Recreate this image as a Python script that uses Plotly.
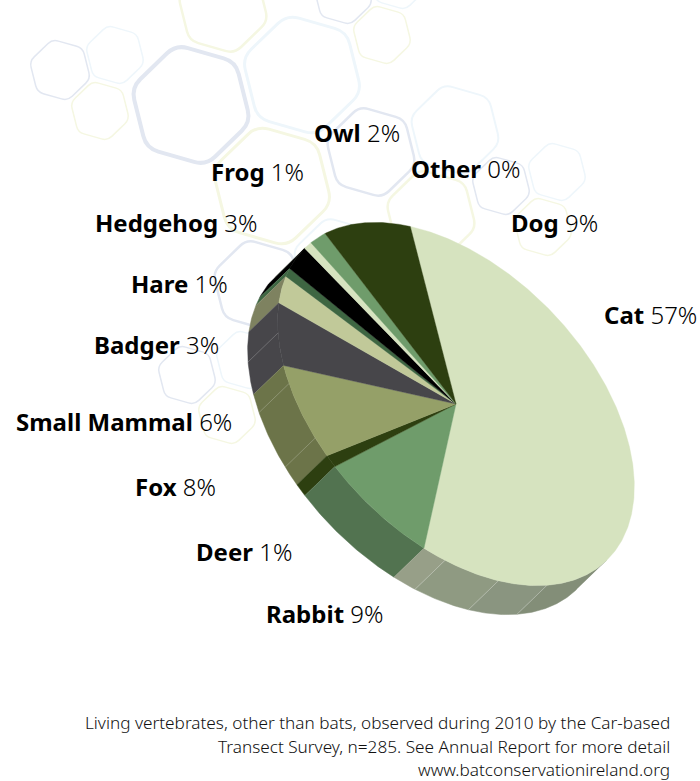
import numpy as np
import plotly.graph_objects as go

# Share of sightings per animal, clockwise from the top of the pie
animals = ["Cat", "Rabbit", "Deer", "Fox", "Small Mammal", "Badger", "Hare",
           "Hedgehog", "Frog", "Owl", "Other", "Dog"]
percent = [57, 9, 1, 8, 6, 3, 1, 3, 1, 2, 0, 9]

top_colors = ["#D6E3BF", "#6F9C6B", "#2D3F10", "#95A068", "#47464A", "#C1C999",
              "#3E6642", "#000000", "#D6E3BF", "#6F9C6B", "#2D3F10", "#2D3F10"]
wall_colors = ["#979F88", "#527350", "#2D3F10", "#6C7449", "#47464A", "#7E8260",
               "#3E6642", "#000000", "#8F9A82", "#527350", "#2D3F10", "#2D3F10"]

# Lighter seams on the rim of the pie, as cumulative percent, and the shades between them
seam_positions = [45.6, 50.3, 55.1, 68.6, 73.4, 78.0]
cat_wall_shades = [(0, 45.6, "#838E78"), (45.6, 50.3, "#8A9580"),
                   (50.3, 55.1, "#8F9A82"), (55.1, 57, "#979F88")]

# Label centres
label_x = [650, 325, 244, 175, 124, 156, 179, 176, 257, 357, 466, 554]
label_y = [314.5, 613.5, 551.5, 486.5, 421.5, 344.5, 283.5, 222.5, 171.5, 132.5, 168.5, 222.5]

footer_lines = ["Living vertebrates, other than bats, observed during 2010 by the Car-based",
                "Transect Survey, n=285. See Annual Report for more detail",
                "www.batconservationireland.org"]
footer_y = [722, 746, 769]

# Background hexagons: centre x, centre y, half width, stroke colour, stroke width
BLUE, PALE, YELLOW = "#E2E7F1", "#EEF6FB", "#F5F7E2"
hexagons = [
    (60, 70, 29, BLUE, 1.5), (115, 55, 28, PALE, 1.5), (100, 111, 28, YELLOW, 1.5),
    (191, 105, 57, BLUE, 4), (223, 8, 43, YELLOW, 2.5), (302, 75, 57, PALE, 3),
    (272, 186, 57, YELLOW, 3), (371, 152, 43, BLUE, 2.5), (455, 130, 43, PALE, 2),
    (431, 215, 43, YELLOW, 2.5), (501, 186, 28, BLUE, 1.5), (557, 172, 28, PALE, 1.5),
    (543, 227, 28, YELLOW, 1.5), (343, -5, 28, BLUE, 1.5), (398, -20, 28, PALE, 1.5),
    (382, 35, 28, YELLOW, 1.5), (258, 285, 43, BLUE, 2.5), (338, 263, 43, PALE, 2),
    (245, 360, 28, PALE, 1.5), (187, 375, 28, BLUE, 1.5), (227, 415, 28, YELLOW, 1.5),
]

# Oblique projection of the pie's disc onto the page
CENTER = (456.0, 404.0)
AXIS_COS = (-45.7, -177.5)
AXIS_SIN = (172.4, 38.5)
DEPTH = (-30.0, 29.0)
# The side wall only shows between these two rim positions
WALL_FROM, WALL_TO = 38.1, 88.1


def rim(cum):
    t = 2 * np.pi * np.asarray(cum, dtype=float) / 100
    x = CENTER[0] + AXIS_COS[0] * np.cos(t) + AXIS_SIN[0] * np.sin(t)
    y = CENTER[1] + AXIS_COS[1] * np.cos(t) + AXIS_SIN[1] * np.sin(t)
    return x, y


def sweep(a, b):
    return np.linspace(a, b, max(3, int((b - a) * 6) + 2))


def wall_trace(a, b, color):
    a, b = max(a, WALL_FROM), min(b, WALL_TO)
    if b <= a:
        return None
    x, y = rim(sweep(a, b))
    xs = np.concatenate([x, x[::-1] + DEPTH[0]])
    ys = np.concatenate([y, y[::-1] + DEPTH[1]])
    return go.Scatter(x=xs, y=ys, fill="toself", fillcolor=color, mode="lines",
                      line=dict(color=color, width=0.5), hoverinfo="skip", showlegend=False)


def face_trace(a, b, color):
    x, y = rim(sweep(a, b))
    xs = np.concatenate([[CENTER[0]], x, [CENTER[0]]])
    ys = np.concatenate([[CENTER[1]], y, [CENTER[1]]])
    return go.Scatter(x=xs, y=ys, fill="toself", fillcolor=color, mode="lines",
                      line=dict(color=color, width=0.4), hoverinfo="skip", showlegend=False)


def hexagon_path(cx, cy, half):
    radius = half * 1.09
    angles = np.radians(-104 + 60 * np.arange(6))
    vx = cx + radius * np.cos(angles)
    vy = cy + radius * np.sin(angles)
    cut = 0.2
    parts = []
    for i in range(6):
        j, k = (i - 1) % 6, (i + 1) % 6
        ax, ay = vx[i] + (vx[j] - vx[i]) * cut, vy[i] + (vy[j] - vy[i]) * cut
        bx, by = vx[i] + (vx[k] - vx[i]) * cut, vy[i] + (vy[k] - vy[i]) * cut
        parts.append(f"{'M' if i == 0 else 'L'} {ax:.1f} {ay:.1f} Q {vx[i]:.1f} {vy[i]:.1f} {bx:.1f} {by:.1f}")
    return " ".join(parts) + " Z"


fig = go.Figure()

edges = np.concatenate([[0], np.cumsum(percent)])

# Side walls first, the top face sits over them
for i in range(len(percent) - 1, -1, -1):
    if percent[i] == 0:
        continue
    if animals[i] == "Cat":
        pieces = [wall_trace(a, b, shade) for a, b, shade in cat_wall_shades]
    else:
        pieces = [wall_trace(edges[i], edges[i + 1], wall_colors[i])]
    for piece in pieces:
        if piece is not None:
            fig.add_trace(piece)

for pos in seam_positions:
    x, y = rim(pos)
    fig.add_trace(go.Scatter(x=[x, x + DEPTH[0]], y=[y, y + DEPTH[1]], mode="lines",
                             line=dict(color="rgba(255,255,255,0.28)", width=0.8),
                             hoverinfo="skip", showlegend=False))

for i in range(len(percent)):
    if percent[i] > 0:
        fig.add_trace(face_trace(edges[i], edges[i + 1], top_colors[i]))

shapes = [dict(type="path", path=hexagon_path(cx, cy, h), line=dict(color=col, width=w),
               fillcolor="rgba(0,0,0,0)", layer="below", xref="x", yref="y")
          for cx, cy, h, col, w in hexagons]

annotations = []
for name, pct, x, y in zip(animals, percent, label_x, label_y):
    annotations.append(dict(x=x, y=y, xref="x", yref="y", showarrow=False, xanchor="center",
                            yanchor="middle", text=f"<b>{name}</b> {pct}%",
                            font=dict(family="Noto Sans", size=24, color="#000000", weight=300)))
for line, y in zip(footer_lines, footer_y):
    annotations.append(dict(x=672, y=y, xref="x", yref="y", showarrow=False, xanchor="right",
                            yanchor="middle", text=line,
                            font=dict(family="Noto Sans", size=17.2, color="#111111", weight=300)))

fig.update_layout(
    width=700, height=781, margin=dict(l=0, r=0, t=0, b=0),
    paper_bgcolor="white", plot_bgcolor="white", showlegend=False,
    xaxis=dict(range=[0, 700], visible=False, fixedrange=True),
    yaxis=dict(range=[781, 0], visible=False, fixedrange=True),
    shapes=shapes, annotations=annotations,
)

fig.write_html("out.html", config={"displayModeBar": False})
